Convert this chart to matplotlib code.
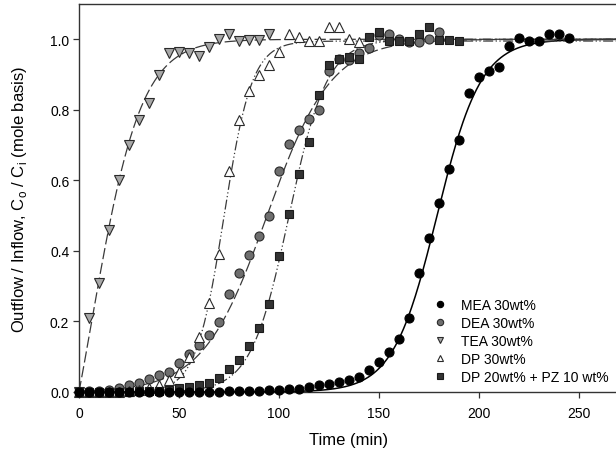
import numpy as np
import matplotlib
matplotlib.use('Agg')
import matplotlib.pyplot as plt

plt.rcParams['font.family'] = ['Liberation Sans', 'DejaVu Sans']
plt.rcParams['mathtext.fontset'] = 'custom'
plt.rcParams['mathtext.rm'] = 'Liberation Sans'

# breakthrough data, sampled every 5 min
t_mea = np.arange(0, 250, 5)
y_mea = [0, 0, 0, 0, 0, 0, 0, 0, 0, 0, 0, 0, 0, 0.001, 0.001, 0.002, 0.002, 0.003,
         0.004, 0.005, 0.006, 0.008, 0.0095, 0.014, 0.019, 0.024, 0.028, 0.033, 0.043,
         0.063, 0.085, 0.113, 0.151, 0.21, 0.336, 0.437, 0.537, 0.633, 0.714, 0.849,
         0.894, 0.909, 0.922, 0.982, 1.004, 0.996, 0.996, 1.016, 1.016, 1.005]

t_dea = np.arange(0, 185, 5)
y_dea = [0, 0.002, 0.004, 0.007, 0.012, 0.021, 0.026, 0.036, 0.047, 0.058, 0.083,
         0.109, 0.132, 0.161, 0.199, 0.278, 0.336, 0.388, 0.443, 0.499, 0.627, 0.703,
         0.744, 0.775, 0.80, 0.91, 0.945, 0.94, 0.962, 0.974, 1.012, 1.016, 1.0,
         0.993, 0.993, 1.0, 1.02]

t_tea = np.arange(0, 100, 5)
y_tea = [0, 0.21, 0.31, 0.46, 0.60, 0.70, 0.77, 0.82, 0.90, 0.962, 0.963, 0.96,
         0.953, 0.979, 1.0, 1.014, 0.995, 0.998, 0.998, 1.015]

t_dp = np.arange(0, 145, 5)
y_dp = [0, 0, 0, 0, 0, 0.002, 0.005, 0.011, 0.021, 0.033, 0.058, 0.099, 0.156,
        0.253, 0.392, 0.627, 0.77, 0.853, 0.898, 0.927, 0.964, 1.016, 1.007, 0.995,
        0.995, 1.035, 1.035, 1.0, 0.993]

t_dppz = np.arange(0, 195, 5)
y_dppz = [0, 0, 0, 0, 0, 0.001, 0.002, 0.003, 0.004, 0.006, 0.01, 0.014, 0.019,
          0.026, 0.04, 0.064, 0.092, 0.13, 0.182, 0.25, 0.386, 0.506, 0.617, 0.709,
          0.842, 0.926, 0.944, 0.95, 0.945, 1.007, 1.02, 0.995, 0.995, 0.995, 1.016,
          1.035, 0.997, 0.997, 0.995]

labels = ['MEA 30wt%', 'DEA 30wt%', 'TEA 30wt%', 'DP 30wt%', 'DP 20wt% + PZ 10 wt%']

# sigmoid fits: y0 + a / (1 + exp(-(t - t0) / b))
fit_mea = (0.0, 1.0, 179.0, 11.0)
fit_dea = (0.0, 1.0, 94.0, 16.0)
fit_tea = (-0.6, 1.6, 6.35, 12.43)
fit_dp = (0.0, 0.995, 72.5, 7.0)
fit_dppz = (0.0, 1.0, 105.0, 9.5)


def sigmoid(t, y0, a, t0, b):
    return y0 + a / (1.0 + np.exp(-(t - t0) / b))


fig = plt.figure(figsize=(6.16, 4.6), dpi=100)
ax = fig.add_axes([79 / 616, 67 / 460, 540 / 616, 388 / 460])

tt = np.linspace(0, 270, 600)
lc = '#3a3a3a'
ax.plot(tt, sigmoid(tt, *fit_mea), color='black', lw=1.1, zorder=2)
ax.plot(tt, sigmoid(tt, *fit_dea), color=lc, lw=0.9, dashes=(9, 3), zorder=2)
ax.plot(tt, sigmoid(tt, *fit_tea), color=lc, lw=0.9, dashes=(9, 3), zorder=2)
ax.plot(tt, sigmoid(tt, *fit_dp), color=lc, lw=0.9, dashes=(8, 2, 1, 2, 1, 2), zorder=2)
ax.plot(tt, sigmoid(tt, *fit_dppz), color=lc, lw=0.9, dashes=(8, 2, 1, 2, 1, 2), zorder=2)

ms = 6.5
kw = dict(ms=ms, mew=0.8, clip_on=False, ls='none')
ax.plot(t_dea, y_dea, 'o', mfc='#6e6e6e', mec='#2a2a2a', label=labels[1], zorder=3, **kw)
ax.plot(t_tea, y_tea, 'v', mfc='#a8a8a8', mec='#2a2a2a', label=labels[2], zorder=3, **kw)
ax.plot(t_dp, y_dp, '^', mfc='white', mec='#2a2a2a', label=labels[3], zorder=3, **kw)
ax.plot(t_dppz, y_dppz, 's', mfc='#333333', mec='#1a1a1a', label=labels[4], zorder=3,
        **dict(kw, ms=ms - 0.5))
ax.plot(t_mea, y_mea, 'o', mfc='black', mec='black', label=labels[0], zorder=4, **kw)

ax.set_xlim(0, 270)
ax.set_ylim(0, 1.1)
ax.set_xticks([0, 50, 100, 150, 200, 250])
ax.set_yticks([0.0, 0.2, 0.4, 0.6, 0.8, 1.0])
ax.yaxis.set_major_formatter(matplotlib.ticker.FormatStrFormatter('%.1f'))
ax.tick_params(direction='out', length=4, width=0.9, labelsize=10, color='#333333', pad=3)
ax.tick_params(axis='x', pad=6)
for s in ax.spines.values():
    s.set_color('#333333')
    s.set_linewidth(1.0)

ax.set_xlabel('Time (min)', fontsize=12, labelpad=9)
ax.set_ylabel(r'Outflow / Inflow, C$_\mathrm{o}$ / C$_\mathrm{i}$ (mole basis)', fontsize=12, labelpad=15)

handles, labs = ax.get_legend_handles_labels()
order = [labs.index(l) for l in labels]
ax.legend([handles[i] for i in order], [labs[i] for i in order],
          loc='upper left', bbox_to_anchor=(433 / 616, 1 - 299 / 460),
          bbox_transform=fig.transFigure, frameon=False, fontsize=10,
          markerscale=0.7, handlelength=1.0, handletextpad=1.0,
          labelspacing=0.28, borderpad=0, borderaxespad=0)

fig.savefig('out.png', dpi=100)
